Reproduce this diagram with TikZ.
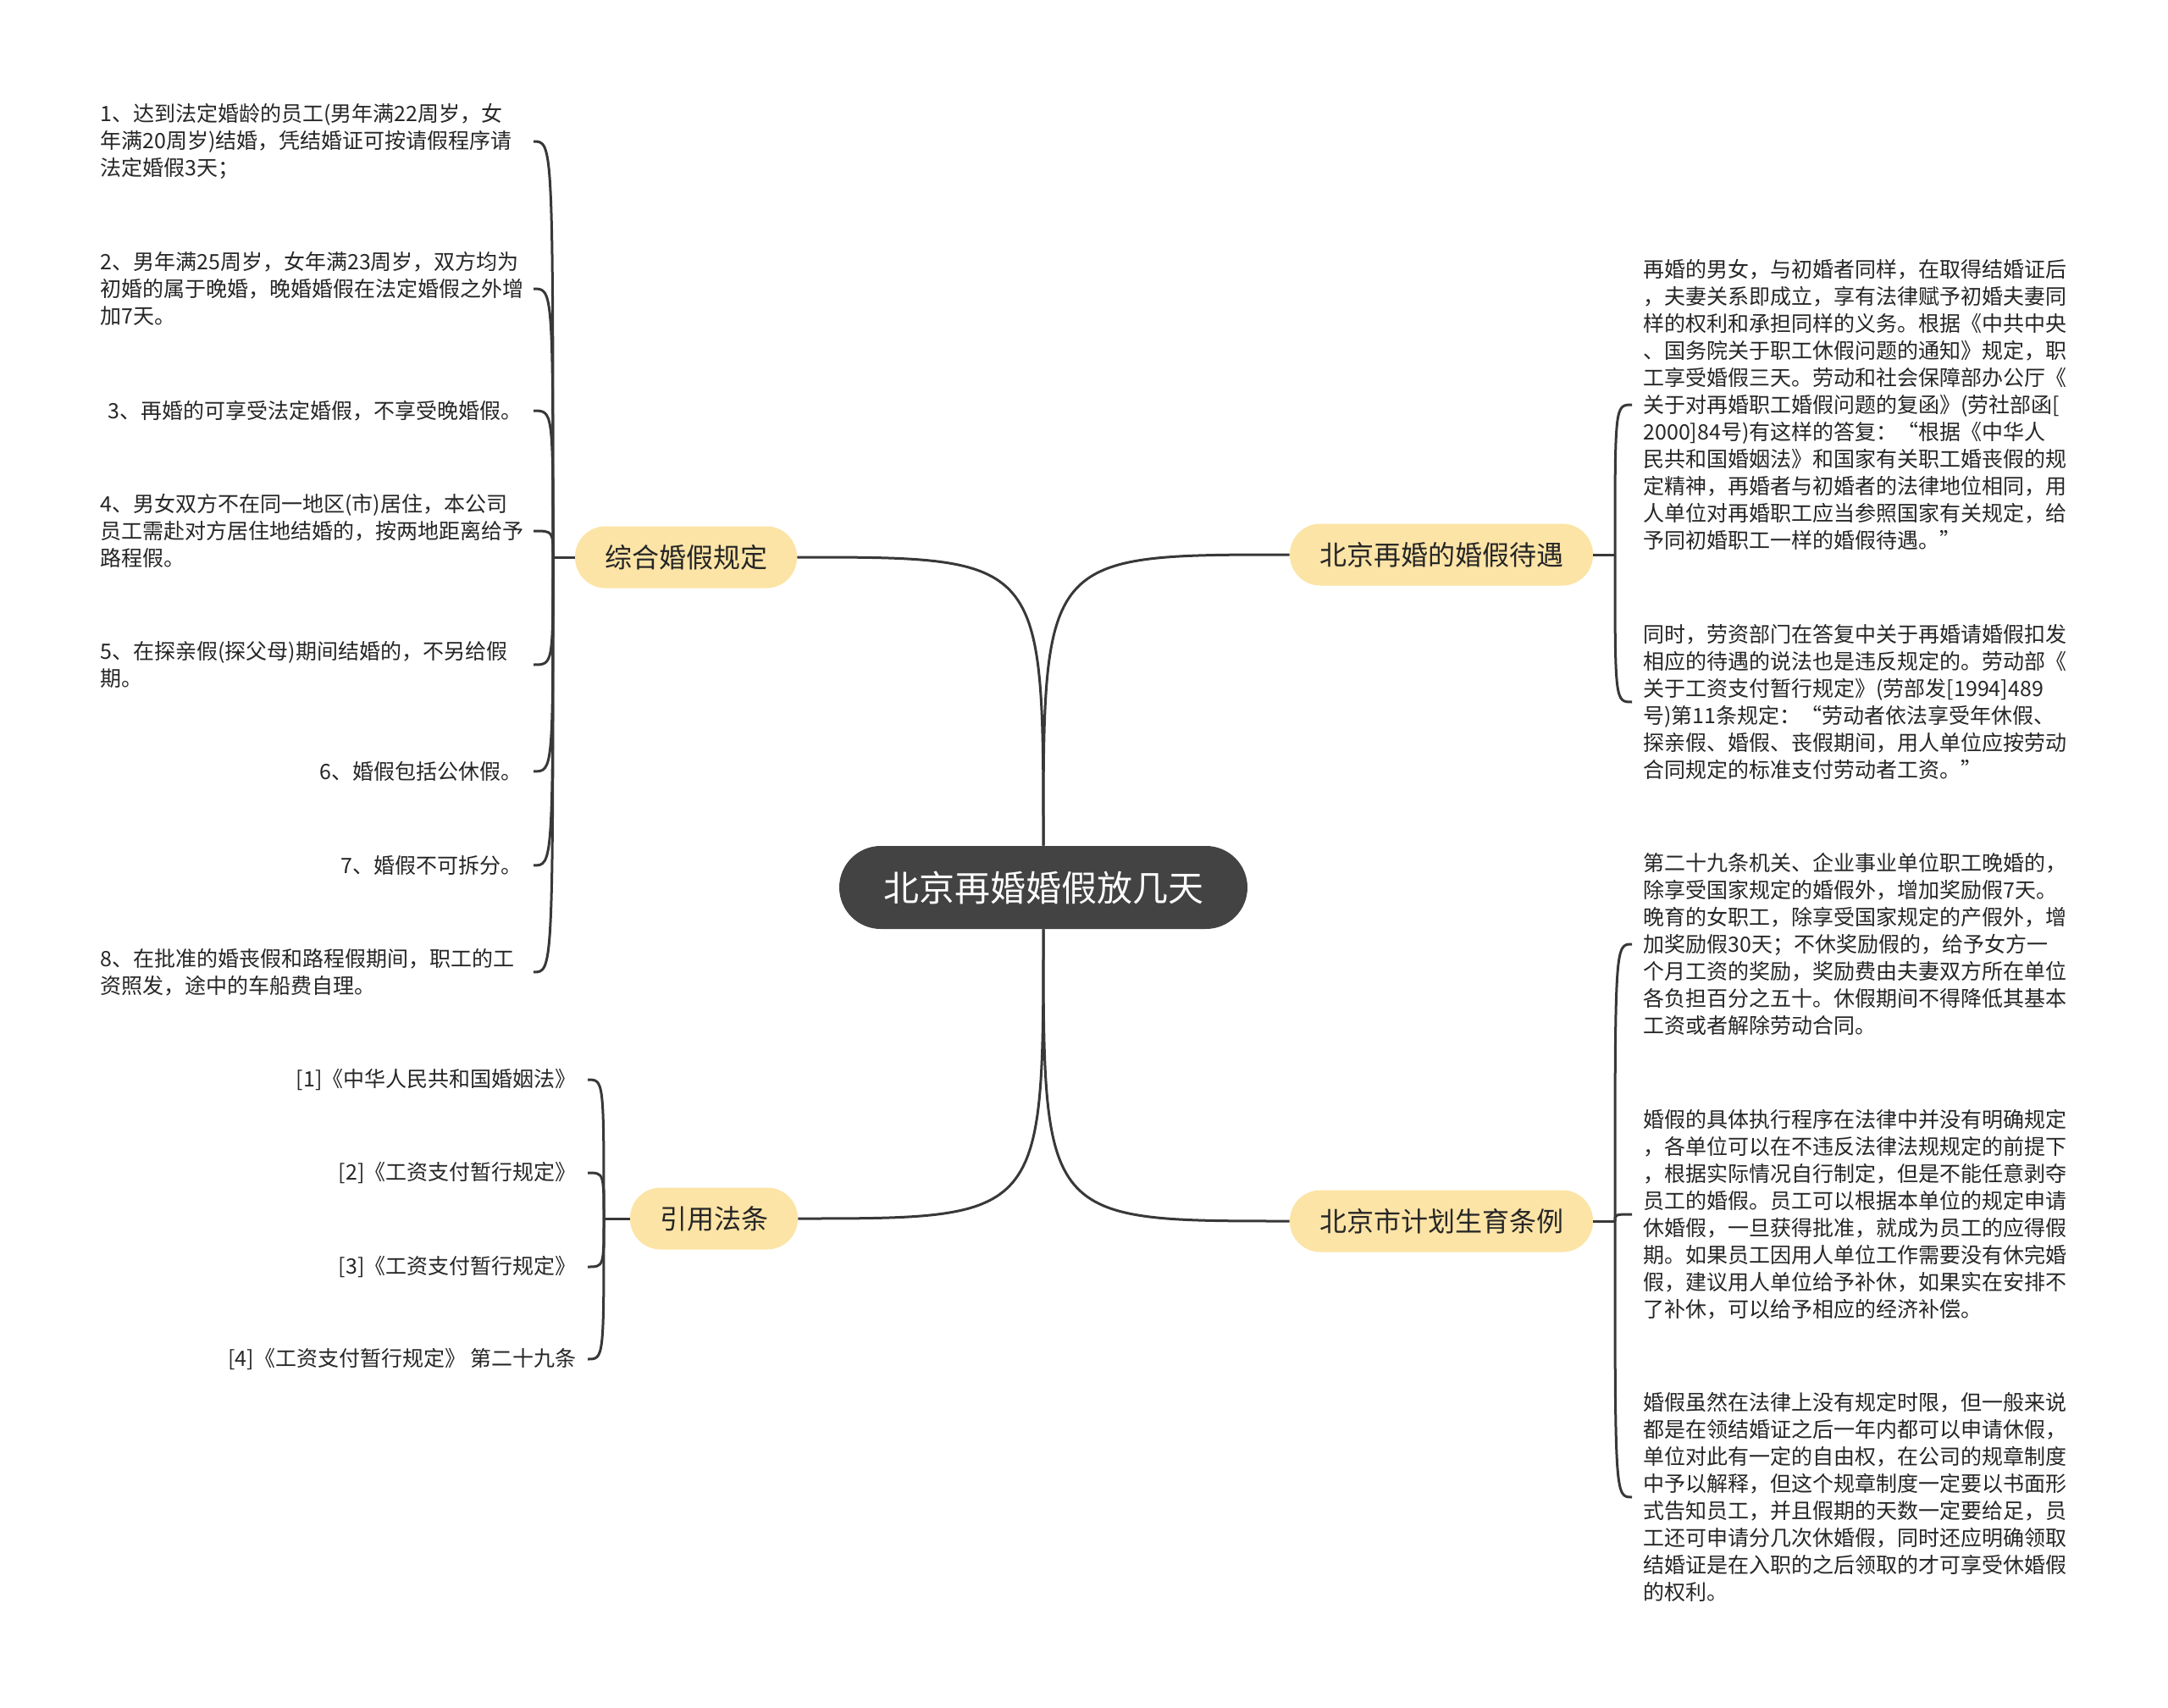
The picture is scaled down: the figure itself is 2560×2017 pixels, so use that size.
\documentclass[tikz,border=0pt]{standalone}
\usepackage{fontspec}
\setmainfont{Noto Sans CJK SC}
\usepackage{xcolor}
\usepackage{tikz}
\usetikzlibrary{positioning}
\definecolor{rootfill}{HTML}{434343}
\definecolor{branchfill}{HTML}{FCE4A6}
\definecolor{linegray}{HTML}{383838}
\definecolor{textgray}{HTML}{262626}

\begin{document}
\begin{tikzpicture}
            [
            x=0.5pt, y=-0.5pt,
            rootnode/.style={rectangle,rounded corners=24.5pt,fill=rootfill,text=white,
              minimum height=49pt,minimum width=241pt,inner xsep=24pt,
              font=\fontsize{21pt}{25pt}\selectfont},
            branch/.style={rectangle,rounded corners=18pt,fill=branchfill,text=textgray,
              minimum height=36.5pt,inner xsep=17.5pt,
              font=\fontsize{16pt}{19pt}\selectfont},
            leaf/.style={inner xsep=6.5pt,inner ysep=2pt,text=textgray,
              font=\fontsize{12.5pt}{16pt}\selectfont},
            para/.style={leaf,text width=249pt,align=left},
            edge/.style={draw=linegray,line width=1.5pt}
            ]
        \useasboundingbox (0,0) rectangle (2560,2017);
        \node[rootnode] (root) at (1232,1048) {北京再婚婚假放几天};
        \node[branch] (b1) at (810,658) {综合婚假规定};
        \node[branch] (b2) at (1702,655) {北京再婚的婚假待遇};
        \node[branch] (b3) at (843,1439) {引用法条};
        \node[branch] (b4) at (1702,1442) {北京市计划生育条例};
        \coordinate (j1) at (653,658);
        \coordinate (j2) at (1907,655);
        \coordinate (j3) at (713,1439);
        \coordinate (j4) at (1907,1442);
        \node[para,anchor=east] (l1) at (630,167) {1、达到法定婚龄的员工(男年满22周岁，女\\年满20周岁)结婚，凭结婚证可按请假程序请\\法定婚假3天；};
        \node[para,anchor=east] (l2) at (630,341) {2、男年满25周岁，女年满23周岁，双方均为\\初婚的属于晚婚，晚婚婚假在法定婚假之外增\\加7天。};
        \node[leaf,anchor=east] (l3) at (630,485) {3、再婚的可享受法定婚假，不享受晚婚假。};
        \node[para,anchor=east] (l4) at (630,627) {4、男女双方不在同一地区(市)居住，本公司\\员工需赴对方居住地结婚的，按两地距离给予\\路程假。};
        \node[para,anchor=east] (l5) at (630,785) {5、在探亲假(探父母)期间结婚的，不另给假\\期。};
        \node[leaf,anchor=east] (l6) at (630,911) {6、婚假包括公休假。};
        \node[leaf,anchor=east] (l7) at (630,1022) {7、婚假不可拆分。};
        \node[para,anchor=east] (l8) at (630,1148) {8、在批准的婚丧假和路程假期间，职工的工\\资照发，途中的车船费自理。};
        \node[leaf,anchor=east] (c1) at (694,1275) {[1]《中华人民共和国婚姻法》};
        \node[leaf,anchor=east] (c2) at (694,1385) {[2]《工资支付暂行规定》};
        \node[leaf,anchor=east] (c3) at (694,1496) {[3]《工资支付暂行规定》};
        \node[leaf,anchor=east] (c4) at (694,1605) {[4]《工资支付暂行规定》 第二十九条};
        \node[para,anchor=west] (r1) at (1927,478) {再婚的男女，与初婚者同样，在取得结婚证后\\，夫妻关系即成立，享有法律赋予初婚夫妻同\\样的权利和承担同样的义务。根据《中共中央\\、国务院关于职工休假问题的通知》规定，职\\工享受婚假三天。劳动和社会保障部办公厅《\\关于对再婚职工婚假问题的复函》(劳社部函[\\2000]84号)有这样的答复：“根据《中华人\\民共和国婚姻法》和国家有关职工婚丧假的规\\定精神，再婚者与初婚者的法律地位相同，用\\人单位对再婚职工应当参照国家有关规定，给\\予同初婚职工一样的婚假待遇。”};
        \node[para,anchor=west] (r2) at (1927,829) {同时，劳资部门在答复中关于再婚请婚假扣发\\相应的待遇的说法也是违反规定的。劳动部《\\关于工资支付暂行规定》(劳部发[1994]489\\号)第11条规定：“劳动者依法享受年休假、\\探亲假、婚假、丧假期间，用人单位应按劳动\\合同规定的标准支付劳动者工资。”};
        \node[para,anchor=west] (r3) at (1927,1115) {第二十九条机关、企业事业单位职工晚婚的，\\除享受国家规定的婚假外，增加奖励假7天。\\晚育的女职工，除享受国家规定的产假外，增\\加奖励假30天；不休奖励假的，给予女方一\\个月工资的奖励，奖励费由夫妻双方所在单位\\各负担百分之五十。休假期间不得降低其基本\\工资或者解除劳动合同。};
        \node[para,anchor=west] (r4) at (1927,1434) {婚假的具体执行程序在法律中并没有明确规定\\，各单位可以在不违反法律法规规定的前提下\\，根据实际情况自行制定，但是不能任意剥夺\\员工的婚假。员工可以根据本单位的规定申请\\休婚假，一旦获得批准，就成为员工的应得假\\期。如果员工因用人单位工作需要没有休完婚\\假，建议用人单位给予补休，如果实在安排不\\了补休，可以给予相应的经济补偿。};
        \node[para,anchor=west] (r5) at (1927,1768) {婚假虽然在法律上没有规定时限，但一般来说\\都是在领结婚证之后一年内都可以申请休假，\\单位对此有一定的自由权，在公司的规章制度\\中予以解释，但这个规章制度一定要以书面形\\式告知员工，并且假期的天数一定要给足，员\\工还可申请分几次休婚假，同时还应明确领取\\结婚证是在入职的之后领取的才可享受休婚假\\的权利。};
        \draw[edge] (root.north) .. controls (root.north |- b1.east) .. (b1.east);
        \draw[edge] (root.north) .. controls (root.north |- b2.west) .. (b2.west);
        \draw[edge] (root.south) .. controls (root.south |- b3.east) .. (b3.east);
        \draw[edge] (root.south) .. controls (root.south |- b4.west) .. (b4.west);
        \draw[edge] (b1.west) -- (j1);
        \draw[edge] (b2.east) -- (j2);
        \draw[edge] (b3.west) -- (j3);
        \draw[edge] (b4.east) -- (j4);
        \foreach \i in {1,...,8}
            \draw[edge] (j1) .. controls (j1 |- l\i.east) and (j1 |- l\i.east) .. (l\i.east);
        \foreach \i in {1,...,4}
            \draw[edge] (j3) .. controls (j3 |- c\i.east) and (j3 |- c\i.east) .. (c\i.east);
        \foreach \i in {1,2}
            \draw[edge] (j2) .. controls (j2 |- r\i.west) and (j2 |- r\i.west) .. (r\i.west);
        \foreach \i in {3,4,5}
            \draw[edge] (j4) .. controls (j4 |- r\i.west) and (j4 |- r\i.west) .. (r\i.west);
        \end{tikzpicture}
\end{document}
